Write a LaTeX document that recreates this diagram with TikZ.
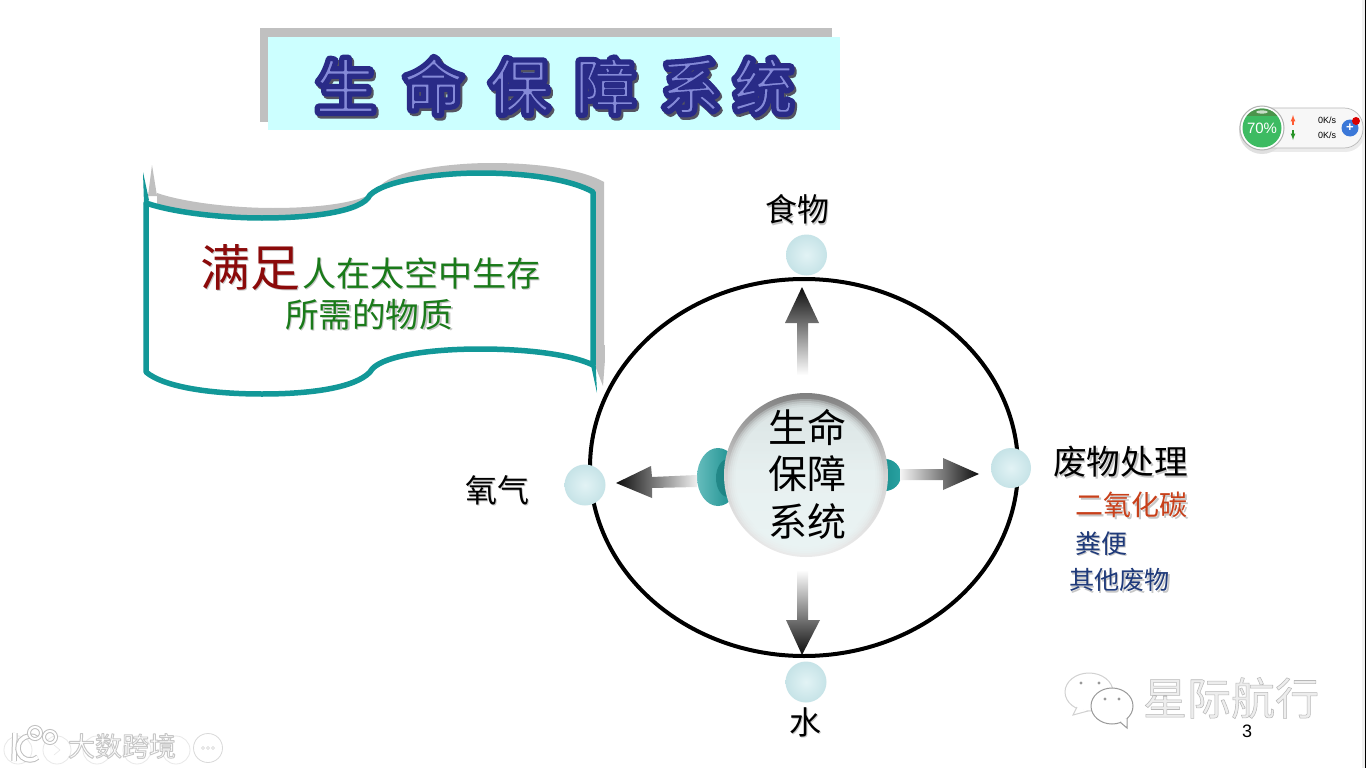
\documentclass[tikz,border=0pt]{standalone}
\usepackage{fontspec}
\usetikzlibrary{shadings,calc,fadings}
\setmainfont{Noto Sans CJK SC}
\newfontfamily\cjk{Noto Sans CJK SC}
\newfontfamily\cjkfat[FakeBold=14]{Noto Sans CJK SC}
\newfontfamily\cjkcore[FakeBold=3.5]{Noto Sans CJK SC}
\newfontfamily\cjkhalo[FakeBold=3.5]{Noto Sans CJK SC}
\newfontfamily\cjkmark[FakeBold=1.2]{Noto Sans CJK SC}
\newfontfamily\latin{Liberation Sans}
\definecolor{teal1}{HTML}{129898}
\definecolor{boxcyan}{HTML}{CCFFFF}
\definecolor{shadowgray}{HTML}{C0C0C0}
\definecolor{navyink}{HTML}{1F3A7A}
\definecolor{greenink}{HTML}{1A7A1A}
\definecolor{redink}{HTML}{8B0A0A}
\definecolor{orangeink}{HTML}{C8401A}
\definecolor{titleblue}{HTML}{2E3192}
\definecolor{titlecore}{HTML}{858AD8}
\definecolor{ballin}{HTML}{E2F3F5}
\definecolor{ballout}{HTML}{C6E3E7}
\definecolor{gaugegreen}{HTML}{3DBB62}
\definecolor{plusblue}{HTML}{3B78D8}
\tikzset{
  x=1pt,y=-1pt,
  label/.style={inner sep=0pt,font=\cjk},
  ball/.style={circle,inner sep=0pt,minimum size=41pt,inner color=ballin,outer color=ballout},
}
% stroke colour for FakeBold text
\newcommand{\strokecol}[3]{\special{pdf:code #1 #2 #3 RG 1 j}}
\newcommand{\titletext}{生\hspace{28pt}命\hspace{26pt}保\hspace{26pt}障\hspace{25pt}系\hspace{13pt}统}
% soft text shadow
\newcommand{\softshadow}[1]{\makebox[0pt][l]{\kern1.6pt\raisebox{-1.6pt}{\textcolor{black!22}{#1}}}#1}
\begin{document}
\begin{tikzpicture}
\useasboundingbox (0,0) rectangle (1366,768);
\fill[white] (0,0) rectangle (1366,768);
\fill[black!6] (1362,0) rectangle (1365,768);
\fill[black] (1365,0) rectangle (1366,768);
% title box
\fill[shadowgray] (260,28) rectangle (832,122);
\node[fill=boxcyan,minimum width=572pt,minimum height=93pt,inner sep=0pt] (titlebox) at (554,83.5) {};
\node[inner sep=0pt,text=black!55] (titleshade) at (556.5,88.5)
  {\fontsize{60pt}{60pt}\cjkfat\strokecol{0.33}{0.33}{0.38}\titletext};
\node[inner sep=0pt,text=titleblue] (titlefat) at (554.5,86)
  {\fontsize{60pt}{60pt}\cjkfat\strokecol{0.16}{0.17}{0.53}\titletext};
\node[inner sep=0pt,text=titlecore] (title) at (554.5,86)
  {\fontsize{60pt}{60pt}\cjkcore\strokecol{0.16}{0.17}{0.53}\titletext};
% banner
\def\bannerpath{(146,203) .. controls (175,213) and (225,218) .. (262,218)
  .. controls (310,218) and (362,212) .. (370,195)
  .. controls (385,180) and (440,173) .. (480,173)
  .. controls (530,173) and (572,180) .. (593,192)
  -- (593,365)
  .. controls (570,354) and (525,349) .. (480,349)
  .. controls (430,349) and (378,356) .. (370,372)
  .. controls (355,388) and (310,394) .. (262,394)
  .. controls (215,394) and (165,388) .. (146,372) -- cycle}
\begin{scope}[shift={(11,-10)}]
  \fill[shadowgray] \bannerpath;
\end{scope}
\fill[shadowgray] (152,165) -- (157,196) -- (148,196) -- cycle;
\fill[shadowgray] (596,345) -- (604.8,345) -- (604.8,362) -- (603,386) -- (596,368) -- cycle;
\draw[teal1,line width=5.5pt,fill=white,line join=round] \bannerpath;
\fill[teal1] (143,172) -- (149,200) -- (144,205) -- cycle;
\fill[teal1] (597,393) -- (590.3,362) -- (595.7,365) -- cycle;
\node[label,text=redink,font=\fontsize{50pt}{50pt}\cjk] (man) at (250,268) {\softshadow{满足}};
\node[label,text=greenink,font=\fontsize{34pt}{34pt}\cjk] (need1) at (421,274) {\softshadow{人在太空中生存}};
\node[label,text=greenink,font=\fontsize{33.6pt}{34pt}\cjk] (need2) at (369,315) {\softshadow{所需的物质}};
% main ellipse
\draw[black,line width=4pt] (804,467.5) ellipse [x radius=214,y radius=188.5];
% lobes
\path[shade,left color=teal1!65,right color=teal1!90!black] (718,477) ellipse [x radius=21,y radius=29];
\path[fill=teal1!75!black,opacity=.55] (728,478) ellipse [x radius=12,y radius=19];
\path[shade,left color=teal1!85!black,right color=teal1!90] (885,475) ellipse [x radius=16,y radius=16];
% balls
\node[ball] (food) at (806.5,255) {};
\node[ball] (oxy) at (585,485) {};
\node[ball,minimum size=40pt] (waste) at (1011,468) {};
\node[ball] (water) at (806,682) {};
% block arrows
\shade[top color=black!95,bottom color=white] (802,287) -- (819,323) -- (808,323) -- (808,375) -- (797,375) -- (797,323) -- (785,323) -- cycle;
\shade[bottom color=black!95,top color=white] (802,655) -- (820,620) -- (808,620) -- (808,570) -- (797,570) -- (797,620) -- (786,620) -- cycle;
\shade[left color=black!95,right color=black!6] (616,483) -- (651,466) -- (652,477) -- (697,475) -- (697,487) -- (652,488) -- (652,498) -- cycle;
\shade[right color=black!95,left color=black!4] (979,474) -- (943,458) -- (943,469) -- (900,469) -- (900,480) -- (943,480) -- (943,490) -- cycle;
% sphere
\node[circle,inner sep=0pt,minimum size=164pt,top color=black!50,bottom color=white!92!black,middle color=black!17] (core) at (806,475) {};
\foreach \rr in {78,76,74,72,70}{\fill[white!92!teal1,opacity=.3] (805.5,477) circle (\rr);}
\node[label,font=\fontsize{39pt}{39pt}\cjk,text=black] (c1) at (807,427) {生命};
\node[label,font=\fontsize{39pt}{39pt}\cjk,text=black] (c2) at (807,474) {保障};
\node[label,font=\fontsize{39pt}{39pt}\cjk,text=black] (c3) at (807,522) {系统};
% labels
\node[label,font=\fontsize{32pt}{32pt}\cjk] (lfood) at (797,210) {\softshadow{食物}};
\node[label,font=\fontsize{32pt}{32pt}\cjk] (loxy) at (497,491) {\softshadow{氧气}};
\node[label,font=\fontsize{32pt}{32pt}\cjk] (lwater) at (805,723) {\softshadow{水}};
\node[label,font=\fontsize{33.7pt}{34pt}\cjk] (lwaste) at (1120.5,463) {\softshadow{废物处理}};
\node[label,font=\fontsize{28pt}{28pt}\cjk,text=orangeink] (co2) at (1131.5,506) {\softshadow{二氧化碳}};
\node[label,font=\fontsize{26pt}{26pt}\cjk,text=navyink] (feces) at (1101,544) {\softshadow{粪便}};
\node[label,font=\fontsize{25.2pt}{26pt}\cjk,text=navyink] (other) at (1119.5,581) {\softshadow{其他废物}};
% widget
\fill[black!8] (1252,112) rectangle (1345,152);
\fill[black!8] (1345,132) circle (20);
\fill[black!12] (1262,131) circle (23);
\node[inner sep=0pt,draw=black!28,line width=.7pt,fill=black!3,rounded corners=19pt,minimum width=123pt,minimum height=40pt] (pill) at (1301.5,128) {};
\node[circle,inner sep=0pt,minimum size=44pt,draw=black!30,fill=white,line width=1pt] (gaugering) at (1262,128) {};
\node[circle,inner sep=0pt,minimum size=39pt,fill=gaugegreen,font=\fontsize{15pt}{15pt}\latin,text=white] (gauge) at (1262,128) {70\%};
\begin{scope}
  \clip (1262,128) circle (19.5);
  \fill[green!40!black!70] (1242,105) rectangle (1282,116);
\end{scope}
\fill[white,opacity=.7] (1262,112) ellipse [x radius=6,y radius=1.6];
\draw[-latex,red!60!orange!80,line width=1.2pt] (1293,125) -- (1293,115);
\draw[-latex,green!50!black!85,line width=1.2pt] (1293,130) -- (1293,140);
\node[inner sep=0pt,font=\fontsize{9pt}{9pt}\latin] (up) at (1327,120) {0K/s};
\node[inner sep=0pt,font=\fontsize{9pt}{9pt}\latin] (down) at (1327,135) {0K/s};
\node[circle,inner sep=0pt,minimum size=17pt,fill=plusblue,text=white,font=\bfseries\fontsize{13pt}{13pt}\latin] (plus) at (1350,128) {+};
\node[circle,inner sep=0pt,minimum size=8pt,fill=red!85!black] (dot) at (1356,121) {};
% watermark right
\node[inner sep=0pt,text=black!7,font=\fontsize{44pt}{44pt}\cjkmark] (brand) at (1231,698) {\strokecol{0.72}{0.72}{0.72}星际航行};
\draw[black!18,line width=1pt,fill=white] (1089,692) ellipse [x radius=24,y radius=19];
\draw[black!18,line width=1pt,fill=white] (1077,707) -- (1073,715) -- (1088,711);
\draw[black!40,line width=1pt,fill=white] (1112,706) ellipse [x radius=21,y radius=18];
\draw[black!40,line width=1pt,fill=white] (1120,722) -- (1127,728) -- (1127,718);
\fill[white] (1119,719) -- (1126,719) -- (1126,724) -- cycle;
\fill[black!40] (1081,683) circle (1.6) (1099,683) circle (1.6) (1105,699) circle (1.6) (1119,699) circle (1.6);
\node[inner sep=0pt,font=\fontsize{18pt}{18pt}\latin] (pageno) at (1247,731) {3};
% watermark left
\foreach \xx in {18,57,97,137,176}{\draw[black!9,line width=.8pt] (\xx,750) circle (14);}
\draw[black!9,line width=.6pt] (54,745) -- (60,750) -- (54,755);
\node[circle,inner sep=0pt,minimum size=29pt,draw=black!15,line width=.8pt] (more) at (208,748) {};
\foreach \xx in {203,208,213}{\draw[black!18,line width=.5pt] (\xx,748) circle (1.5);}
\draw[white,line width=3.5pt,preaction={draw=black!25,line width=5.5pt}] (15,733) -- (14,761);
\draw[white,line width=3.5pt,preaction={draw=black!25,line width=5.5pt}] (37.7,738.8) arc (-50:-310:12);
\draw[white,line width=2pt,preaction={draw=black!25,line width=4pt}] (35,733) circle (6);
\draw[white,line width=2pt,preaction={draw=black!25,line width=4pt}] (50,737) circle (6);
\node[inner sep=0pt,text=white,font=\fontsize{27pt}{27pt}\cjkhalo] (wm) at (122,746) {\strokecol{0.78}{0.78}{0.78}大数跨境};
\end{tikzpicture}
\end{document}
